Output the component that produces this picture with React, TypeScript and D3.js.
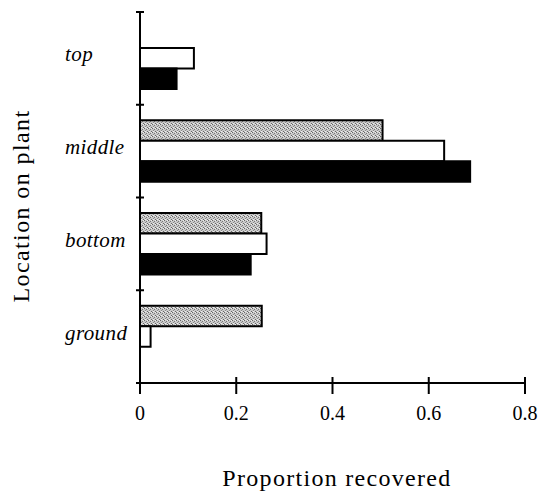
import React from "react";
import * as d3 from "d3";

// location categories, top to bottom
const locations = ["top", "middle", "bottom", "ground"];
// three series per location, drawn grey / white / black
const seriesNames = ["grey", "white", "black"];
const greyValues = [0, 0.504, 0.252, 0.253];
const whiteValues = [0.112, 0.632, 0.263, 0.022];
const blackValues = [0.076, 0.686, 0.23, 0];
const xTicks = [0, 0.2, 0.4, 0.6, 0.8];

const W = 539;
const H = 493;
const serif = "Liberation Serif, Tinos, Times New Roman, DejaVu Serif, serif";

const App = () => {
  const x = d3.scaleLinear().domain([0, 0.8]).range([140, 525]);
  const y = d3.scaleBand().domain(locations).range([12, 383]);
  const inner = d3.scaleBand().domain(seriesNames).range([15.5, 77]);

  const seriesValues = [greyValues, whiteValues, blackValues];
  const fills = ["url(#stipple)", "#fff", "#000"];

  const bars = [];
  locations.forEach((loc, i) => {
    seriesNames.forEach((s, j) => {
      const v = seriesValues[j][i];
      if (!v) return;
      bars.push({ key: loc + s, loc, s, v, fill: fills[j] });
    });
  });

  const boundaries = [...locations.map((l) => y(l)), y.range()[1]];
  const textStyle = { fontFamily: serif };

  return (
    <svg
      width={W}
      height={H}
      style={{ position: "absolute", left: 0, top: 0, background: "#fff" }}
    >
      <defs>
        <pattern id="stipple" width="4" height="4" patternUnits="userSpaceOnUse">
          <rect width="4" height="4" fill="#c9c9c9" />
          <rect x="0" y="0" width="1" height="1" fill="#666" />
          <rect x="2" y="1" width="1" height="1" fill="#777" />
          <rect x="1" y="2" width="1" height="1" fill="#888" />
          <rect x="3" y="3" width="1" height="1" fill="#666" />
          <rect x="3" y="0" width="1" height="1" fill="#eee" />
          <rect x="1" y="3" width="1" height="1" fill="#eee" />
        </pattern>
      </defs>

      {/* bars */}
      {bars.map((b) => (
        <rect
          key={b.key}
          x={x(0)}
          y={y(b.loc) + inner(b.s)}
          width={x(b.v) - x(0)}
          height={inner.bandwidth()}
          fill={b.fill}
          stroke="#000"
          strokeWidth={2}
        />
      ))}

      {/* y axis */}
      <line x1={x(0)} x2={x(0)} y1={12} y2={383} stroke="#000" strokeWidth={2} />
      {boundaries.map((b, i) => (
        <line key={i} x1={x(0) - 4} x2={x(0) + 4} y1={b} y2={b} stroke="#000" strokeWidth={2} />
      ))}
      {locations.map((l) => (
        <text
          key={l}
          x={65}
          y={y(l) + y.bandwidth() / 2 + 3}
          style={textStyle}
          fontStyle="italic"
          fontSize={21}
          letterSpacing={0.4}
          fill="#000"
        >
          {l}
        </text>
      ))}
      <text
        transform="translate(29, 206) rotate(-90)"
        textAnchor="middle"
        style={textStyle}
        fontSize={24}
        letterSpacing={1.4}
        fill="#000"
      >
        Location on plant
      </text>

      {/* x axis */}
      <line x1={x(0)} x2={x(0.8)} y1={383} y2={383} stroke="#000" strokeWidth={2} />
      {xTicks.map((t) => (
        <g key={t}>
          <line x1={x(t)} x2={x(t)} y1={377} y2={394} stroke="#000" strokeWidth={2} />
          <text
            x={x(t)}
            y={420}
            textAnchor="middle"
            style={textStyle}
            fontSize={20}
            fill="#000"
          >
            {t === 0 ? "0" : d3.format(".1f")(t)}
          </text>
        </g>
      ))}
      <text
        x={337}
        y={486}
        textAnchor="middle"
        style={textStyle}
        fontSize={24}
        letterSpacing={1.3}
        fill="#000"
      >
        Proportion recovered
      </text>
    </svg>
  );
};

export default App;
